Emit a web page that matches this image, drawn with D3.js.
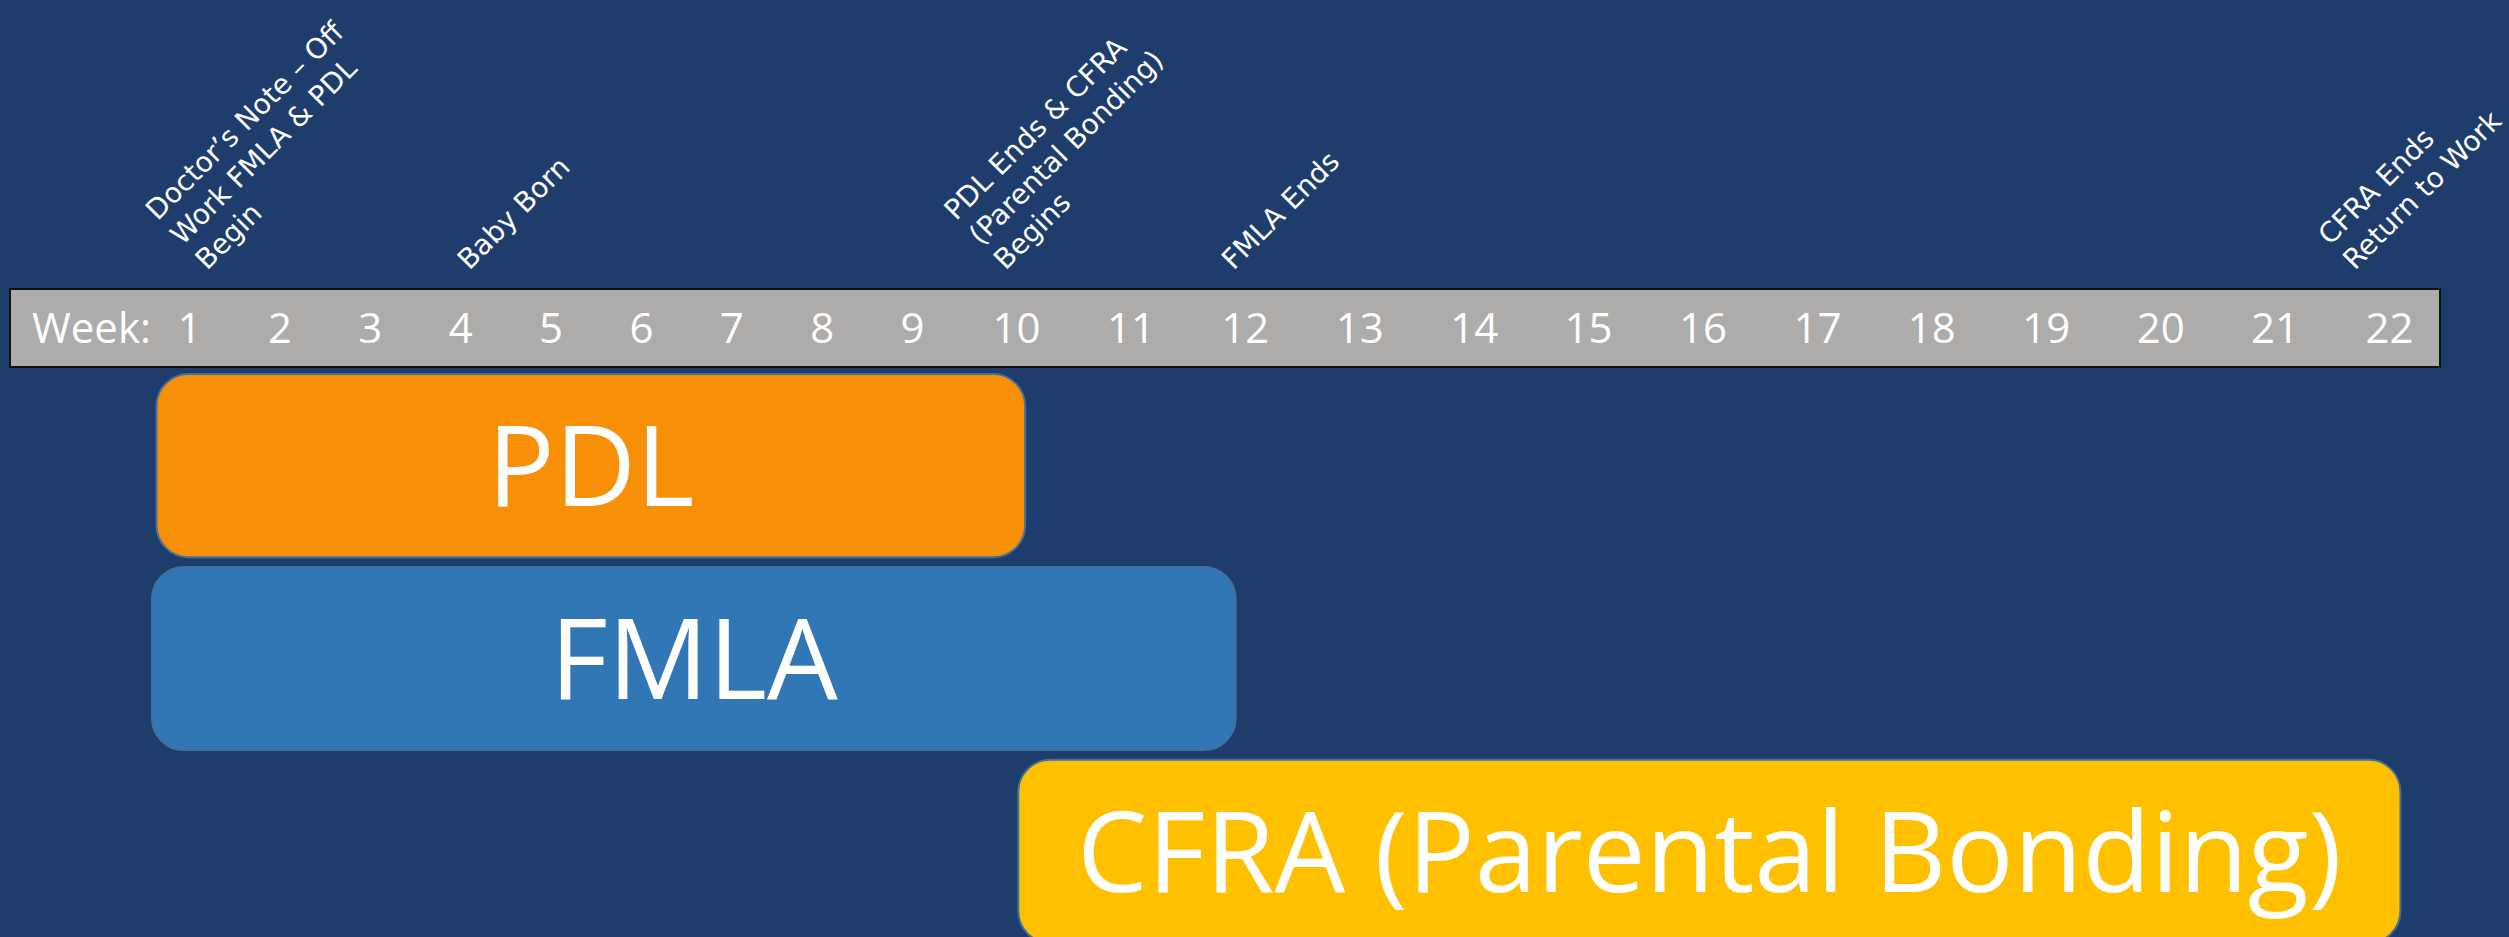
<!DOCTYPE html>
<html>
<head>
<meta charset="utf-8">
<script src="https://cdn.jsdelivr.net/npm/d3@7"></script>
<style>
    html, body { margin: 0; padding: 0; background: #1E3C6C; }
    svg { display: block; }
</style>
</head>
<body>
<svg id="chart" width="2509" height="937"></svg>
<script>
// week ticks on the grey ruler
const weeks = d3.range(1, 23);
const weekLabel = 'Week:';

const leaveNames = ['PDL', 'FMLA', 'CFRA (Parental Bonding)'];
const leaveStart = [0.64, 0.59, 10.02];
const leaveEnd = [10.08, 11.92, 22.1];
const leaveColors = ['#F79008', '#3176B5', '#FFC000'];

// milestone notes above the ruler
const noteLines = [
    ['Doctor\u2019s Note \u2013 Off', 'Work FMLA & PDL', 'Begin'],
    ['Baby Born'],
    ['PDL Ends & CFRA', '(Parental Bonding)', 'Begins'],
    ['FMLA Ends'],
    ['CFRA Ends', 'Return to Work']
];
const noteWeek = [1.2, 4.1, 9.9, 11.9, 21.7];

const WIDTH = 2509, HEIGHT = 937;
const RULER_LEFT = 10, RULER_RIGHT = 2440, RULER_TOP = 289, RULER_BOTTOM = 367;
const NOTE_BASELINE = 271, NOTE_LINE = 35;

const svg = d3.select('#chart');

// the ruler spacing widens once the numbers get two digits
const x = d3.scaleLinear()
    .domain([1, 9, 10, 22])
    .range([189, 912, 1016, 2389]);

const y = d3.scaleBand()
    .domain(leaveNames)
    .range([374, 943])
    .paddingInner(0.05);

svg.append('rect')
    .attr('width', WIDTH)
    .attr('height', HEIGHT)
    .attr('fill', '#1E3C6C');

// ruler
svg.append('rect')
    .attr('x', RULER_LEFT)
    .attr('y', RULER_TOP)
    .attr('width', RULER_RIGHT - RULER_LEFT)
    .attr('height', RULER_BOTTOM - RULER_TOP)
    .attr('fill', '#AEABAB')
    .attr('stroke', '#111')
    .attr('stroke-width', 2);

svg.append('text')
    .attr('x', 32)
    .attr('y', 343)
    .attr('fill', '#fff')
    .style('font-family', '"Open Sans", sans-serif')
    .style('font-size', '42px')
    .text(weekLabel);

const axis = svg.append('g')
    .attr('transform', 'translate(0,343)')
    .call(d3.axisBottom(x).tickValues(weeks).tickSize(0).tickFormat(d3.format('d')));
axis.select('.domain').remove();
axis.selectAll('text')
    .attr('y', 0)
    .attr('dy', 0)
    .attr('fill', '#fff')
    .style('font-family', '"Open Sans", sans-serif')
    .style('font-size', '42px');

// milestone notes, rotated, left aligned, last line sitting on the ruler
const notes = svg.append('g')
    .selectAll('g.note')
    .data(noteLines.map((lines, i) => ({lines: lines, week: noteWeek[i]})))
    .join('g')
    .attr('class', 'note')
    .attr('transform', d => 'translate(' + x(d.week) + ',' + NOTE_BASELINE + ') rotate(-45)');

notes.selectAll('text')
    .data(d => d.lines.map((t, i) => ({text: t, shift: d.lines.length - 1 - i})))
    .join('text')
    .attr('x', 0)
    .attr('y', d => -d.shift * NOTE_LINE)
    .attr('fill', '#fff')
    .style('font-family', '"DejaVu Sans", sans-serif')
    .style('font-size', '28px')
    .text(d => d.text);

// leave bars
const leaves = leaveNames.map((name, i) => ({
    name: name,
    start: leaveStart[i],
    end: leaveEnd[i],
    color: leaveColors[i]
}));

const bars = svg.append('g')
    .selectAll('g.leave')
    .data(leaves)
    .join('g')
    .attr('class', 'leave');

bars.append('rect')
    .attr('x', d => x(d.start))
    .attr('y', d => y(d.name))
    .attr('width', d => x(d.end) - x(d.start))
    .attr('height', y.bandwidth())
    .attr('rx', 32)
    .attr('ry', 32)
    .attr('fill', d => d.color)
    .attr('stroke', '#41719C')
    .attr('stroke-width', 2);

bars.append('text')
    .attr('x', d => (x(d.start) + x(d.end)) / 2)
    .attr('y', d => y(d.name) + y.bandwidth() / 2)
    .attr('dy', '0.36em')
    .attr('text-anchor', 'middle')
    .attr('fill', '#fff')
    .style('font-family', '"Open Sans", sans-serif')
    .style('font-size', '112px')
    .text(d => d.name);
</script>
</body>
</html>
